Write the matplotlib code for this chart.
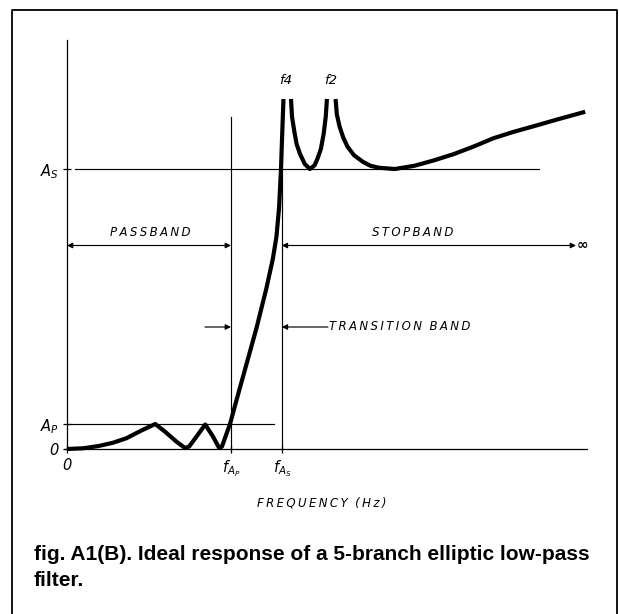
import matplotlib
matplotlib.use("Agg")
import matplotlib.pyplot as plt
from matplotlib.lines import Line2D

plt.rcParams['mathtext.fontset'] = 'dejavusans'
plt.rcParams['font.family'] = ['DejaVu Sans']

# Response curve: passband ripple and transition rise up to the f4 pole
resp_lo_f = [0.0, 0.10, 0.193, 0.28, 0.362, 0.457, 0.538, 0.60, 0.67, 0.72,
             0.745, 0.79, 0.843, 0.89, 0.928, 0.945, 0.995, 1.036, 1.096,
             1.156, 1.216, 1.255, 1.277, 1.293, 1.305, 1.311, 1.320]
resp_lo_a = [0.0, 0.03, 0.12, 0.25, 0.43, 0.75, 1.0, 0.68, 0.28, 0.04,
             0.1, 0.5, 0.98, 0.5, 0.04, 0.1, 1.02, 2.01, 3.43,
             4.85, 6.43, 7.6, 8.48, 9.64, 11.2, 12.36, 14.0]
# Lobe between the f4 and f2 poles
resp_mid_f = [1.366, 1.372, 1.385, 1.40, 1.421, 1.45, 1.481, 1.51, 1.529,
              1.548, 1.565, 1.578, 1.585]
resp_mid_a = [14.0, 13.3, 12.75, 12.2, 11.8, 11.4, 11.2, 11.35, 11.64,
              12.0, 12.6, 13.3, 14.0]
# Stopband beyond the f2 pole
resp_hi_f = [1.638, 1.645, 1.662, 1.685, 1.710, 1.75, 1.806, 1.85, 1.902,
             1.999, 2.119, 2.24, 2.36, 2.48, 2.60, 2.72, 2.84, 3.0, 3.16]
resp_hi_a = [14.0, 13.4, 12.9, 12.45, 12.1, 11.75, 11.48, 11.33, 11.25,
             11.2, 11.33, 11.55, 11.8, 12.1, 12.43, 12.68, 12.9, 13.2, 13.49]

f_ap = 1.0      # passband edge
f_as = 1.31     # stopband edge
a_p = 1.0       # passband ripple
a_s = 11.2      # stopband attenuation
f_end = 3.17
a_top = 16.36

x_ticks = [0, f_ap, f_as]
x_ticklabels = ['0', r'$f_{A_P}$', r'$f_{A_S}$']
y_ticks = [0, a_p, a_s]
y_ticklabels = ['0', r'$A_P$', r'$A_S$']

pole_labels = ['f4', 'f2']
pole_label_f = [1.335, 1.61]

THIN = '\u2009'


def spaced(s):
    return THIN.join(s)


fig = plt.figure(figsize=(6.19, 6.14), dpi=100)
fig.patch.set_facecolor('white')
ax = fig.add_axes([0, 0, 1, 1])
ax.set_xlim(-0.4085, 3.366)
ax.set_ylim(-6.6, 17.96)
ax.patch.set_visible(False)

for side in ('top', 'right'):
    ax.spines[side].set_visible(False)
ax.spines['left'].set_position(('data', 0))
ax.spines['bottom'].set_position(('data', 0))
ax.spines['left'].set_bounds(0, a_top)
ax.spines['bottom'].set_bounds(-0.02, f_end)
for side in ('left', 'bottom'):
    ax.spines[side].set_linewidth(0.9)

ax.set_xticks(x_ticks)
ax.set_xticklabels(x_ticklabels)
ax.set_yticks(y_ticks)
ax.set_yticklabels(y_ticklabels)
ax.tick_params(axis='both', direction='inout', length=6, width=0.9,
               labelsize=10.5)
ax.tick_params(axis='y', pad=3)
ax.tick_params(axis='x', pad=3.5)
for lab in ax.get_xticklabels() + ax.get_yticklabels():
    lab.set_fontstyle('italic')

thin = dict(color='black', lw=0.85)
ax.plot([0, 1.262], [a_p, a_p], **thin)
ax.plot([0.05, 2.878], [a_s, a_s], **thin)
ax.plot([f_ap, f_ap], [0, 13.28], **thin)
ax.plot([f_as, f_as], [0, a_s], **thin)

curve = dict(color='black', lw=3.0, solid_capstyle='butt',
             solid_joinstyle='round')
ax.plot(resp_lo_f, resp_lo_a, **curve)
ax.plot(resp_mid_f, resp_mid_a, **curve)
ax.plot(resp_hi_f, resp_hi_a, **curve)

arrow = dict(color='black', lw=0.85, mutation_scale=8, shrinkA=0, shrinkB=0)
band_y = 8.14
ax.annotate('', xy=(f_ap, band_y), xytext=(0, band_y),
            arrowprops=dict(arrowstyle='<|-|>', **arrow))
ax.annotate('', xy=(3.104, band_y), xytext=(f_as, band_y),
            arrowprops=dict(arrowstyle='<|-|>', **arrow))
trans_y = 4.88
ax.annotate('', xy=(f_ap, trans_y), xytext=(0.841, trans_y),
            arrowprops=dict(arrowstyle='-|>', **arrow))
ax.annotate('', xy=(f_as, trans_y), xytext=(1.591, trans_y),
            arrowprops=dict(arrowstyle='-|>', **arrow))

lbl = dict(fontstyle='italic', fontsize=8.5, color='black')
ax.text(0.506, 8.42, spaced('PASSBAND'), ha='center', va='bottom', **lbl)
ax.text(2.107, 8.42, spaced('STOPBAND'), ha='center', va='bottom', **lbl)
ax.text(3.108, band_y, '\u221e', ha='left', va='center', fontsize=10,
        fontweight='bold')
ax.text(1.60, trans_y, spaced('TRANSITION') + '  ' + spaced('BAND'),
        ha='left', va='center', **lbl)
ax.text(1.555, -2.16, spaced('FREQUENCY') + '  ' + spaced('(Hz)'),
        ha='center', va='center', **lbl)
for name, f in zip(pole_labels, pole_label_f):
    ax.text(f, 14.72, name, ha='center', va='center', fontstyle='italic',
            fontsize=9.5)

# Frame around the figure and its caption
fig.add_artist(Line2D([12 / 619, 12 / 619, 617 / 619, 617 / 619],
                      [0, 1 - 10 / 614, 1 - 10 / 614, 0],
                      transform=fig.transFigure, color='black', lw=1.3))
cap = dict(fontsize=15, fontweight='bold', family='Liberation Sans',
           va='center', ha='left')
fig.text(34 / 619, 1 - 554 / 614,
         'fig. A1(B). Ideal response of a 5-branch elliptic low-pass', **cap)
fig.text(34 / 619, 1 - 580 / 614, 'filter.', **cap)

fig.savefig('out.png', dpi=100, facecolor='white')
